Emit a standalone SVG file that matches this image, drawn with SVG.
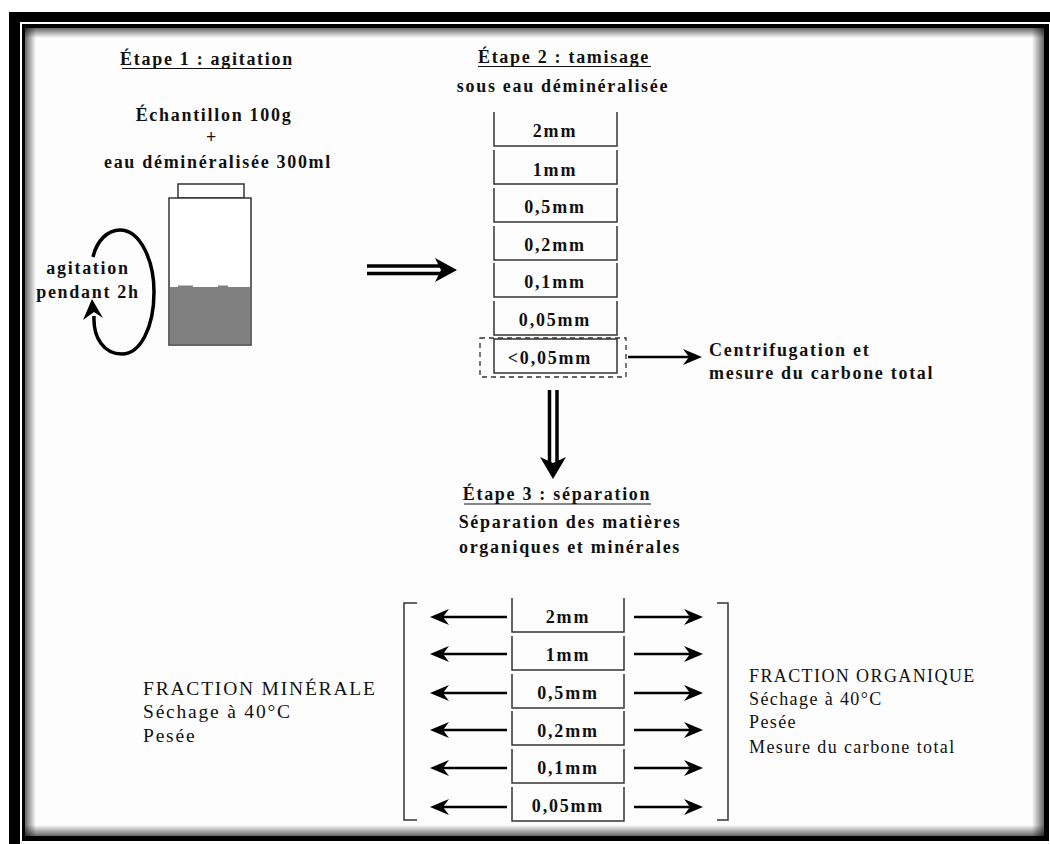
<svg xmlns="http://www.w3.org/2000/svg" xmlns:xlink="http://www.w3.org/1999/xlink" width="1050" height="844" viewBox="0 0 1050 844">
<style>
.b{font-family:"Liberation Serif","Times New Roman",serif;font-weight:bold;font-size:18px;letter-spacing:1.7px;fill:#111}
.m{text-anchor:middle}
.s{font-family:"Liberation Serif","Times New Roman",serif;font-weight:bold;font-size:18px;letter-spacing:1.8px;fill:#111;text-anchor:middle}
.r{font-family:"Liberation Serif","Times New Roman",serif;font-size:18px;letter-spacing:1.4px;fill:#111}
.rl{font-family:"Liberation Serif","Times New Roman",serif;font-size:19.5px;letter-spacing:1.8px;fill:#111}
.sv{fill:none;stroke:#333;stroke-width:1.5}
.ul{stroke:#111;stroke-width:1.2}
.ar{stroke:#000;stroke-width:2.6;marker-end:url(#ah)}
.dl{stroke:#000;stroke-width:3.5}
</style>
<defs>
<marker id="ah" viewBox="-20 -10 20 20" markerWidth="20" markerHeight="20" refX="-10" refY="0" orient="auto" markerUnits="userSpaceOnUse">
<path d="M0,0 L-19,-8 L-13,0 L-19,8 Z" fill="#000"/>
</marker>
<linearGradient id="gl" x1="0" y1="0" x2="1" y2="0"><stop offset="0" stop-color="#000" stop-opacity="0.6"/><stop offset="1" stop-color="#000" stop-opacity="0"/></linearGradient>
<linearGradient id="gr" x1="1" y1="0" x2="0" y2="0"><stop offset="0" stop-color="#000" stop-opacity="0.6"/><stop offset="1" stop-color="#000" stop-opacity="0"/></linearGradient>
<linearGradient id="gt" x1="0" y1="0" x2="0" y2="1"><stop offset="0" stop-color="#000" stop-opacity="0.6"/><stop offset="1" stop-color="#000" stop-opacity="0"/></linearGradient>
<linearGradient id="gb" x1="0" y1="1" x2="0" y2="0"><stop offset="0" stop-color="#000" stop-opacity="0.6"/><stop offset="1" stop-color="#000" stop-opacity="0"/></linearGradient>
</defs>
<rect width="1050" height="844" fill="#fff"/>
<g id="frame">
<rect x="9" y="12" width="11" height="832" fill="#000"/>
<rect x="9" y="12" width="1041" height="10" fill="#000"/>
<rect x="22" y="24" width="1027" height="817" fill="#000"/>
<rect x="25" y="28" width="1019" height="808" fill="#fdfdfd"/>
<rect x="25" y="28" width="11" height="808" fill="url(#gl)"/>
<rect x="1032" y="28" width="12" height="808" fill="url(#gr)"/>
<rect x="25" y="28" width="1019" height="10" fill="url(#gt)"/>
<rect x="25" y="825" width="1019" height="11" fill="url(#gb)"/>
</g>
<g id="etape1">
<text class="b m" x="207" y="65">Étape 1 : agitation</text>
<line class="ul" x1="122" y1="68.5" x2="291" y2="68.5"/>
<text class="b m" x="214" y="121">Échantillon 100g</text>
<text class="b m" x="212" y="143">+</text>
<text class="b m" x="218" y="168">eau déminéralisée 300ml</text>
</g>
<g id="jar">
<rect x="178" y="184" width="66" height="14" fill="#fff" stroke="#333" stroke-width="1.5"/>
<rect x="169" y="198" width="82" height="147" fill="#fff" stroke="#333" stroke-width="1.5"/>
<path d="M170,287 H178 V285.6 H193 V287 H218 V285.6 H228 V287 H250 V344 H170 Z" fill="#808080"/>
</g>
<g id="agitation">
<path d="M93,257 C97,240 108,230 120,230 C140,230 154,260 154,292 C154,328 140,354 122,354 C104,354 93,338 94,316" fill="none" stroke="#000" stroke-width="3.5"/>
<path d="M92,299 L103,318 L94,312 L83,320 Z" fill="#000"/>
<text class="b m" x="88" y="274">agitation</text>
<text class="b m" x="88" y="298">pendant 2h</text>
</g>
<g id="etape2">
<text class="b m" x="564" y="63">Étape 2 : tamisage</text>
<line class="ul" x1="478" y1="66.5" x2="651" y2="66.5"/>
<text class="b m" x="563" y="92">sous eau déminéralisée</text>
</g>
<g id="tamis">
<path class="sv" d="M494,112 V146 H617 V112"/>
<path class="sv" d="M494,150 V184 H617 V150"/>
<path class="sv" d="M494,188 V222 H617 V188"/>
<path class="sv" d="M494,226 V260 H617 V226"/>
<path class="sv" d="M494,263 V297 H617 V263"/>
<path class="sv" d="M494,301 V335 H617 V301"/>
<rect class="sv" x="494" y="339" width="123" height="34"/>
<rect x="480" y="338" width="146" height="39" fill="none" stroke="#333" stroke-width="1.3" stroke-dasharray="5 4"/>
<text class="s" x="555" y="137">2mm</text>
<text class="s" x="555" y="176">1mm</text>
<text class="s" x="555" y="213">0,5mm</text>
<text class="s" x="555" y="251">0,2mm</text>
<text class="s" x="555" y="288">0,1mm</text>
<text class="s" x="555" y="326">0,05mm</text>
<text class="s" x="550" y="364">&lt;0,05mm</text>
</g>
<g id="centrifugation">
<text class="b" x="709" y="356">Centrifugation et</text>
<text class="b" x="709" y="379">mesure du carbone total</text>
</g>
<g id="etape3">
<text class="b m" x="557" y="500">Étape 3 : séparation</text>
<line class="ul" x1="464" y1="504" x2="651" y2="504"/>
<text class="b m" x="570" y="528">Séparation des matières</text>
<text class="b m" x="570" y="553">organiques et minérales</text>
</g>
<g id="separation">
<path class="sv" d="M512,598 V632 H624 V598"/>
<path class="sv" d="M512,636 V670 H624 V636"/>
<path class="sv" d="M512,674 V708 H624 V674"/>
<path class="sv" d="M512,711 V745 H624 V711"/>
<path class="sv" d="M512,749 V783 H624 V749"/>
<path class="sv" d="M512,787 V821 H624 V787"/>
<text class="s" x="568" y="623">2mm</text>
<text class="s" x="568" y="661">1mm</text>
<text class="s" x="568" y="699">0,5mm</text>
<text class="s" x="568" y="737">0,2mm</text>
<text class="s" x="568" y="774">0,1mm</text>
<text class="s" x="568" y="812">0,05mm</text>
<path class="sv" d="M417,603 H404 V820 H417"/>
<path class="sv" d="M717,603 H728 V820 H717"/>
</g>
<g id="fraction-minerale">
<text class="rl" x="143" y="695" letter-spacing="2.2">FRACTION MINÉRALE</text>
<text class="rl" x="143" y="718">Séchage à 40°C</text>
<text class="rl" x="143" y="742">Pesée</text>
</g>
<g id="fraction-organique">
<text class="r" x="749" y="682">FRACTION ORGANIQUE</text>
<text class="r" x="749" y="705">Séchage à 40°C</text>
<text class="r" x="749" y="728">Pesée</text>
<text class="r" x="749" y="753">Mesure du carbone total</text>
</g>
<g id="connectors">
<line class="dl" x1="367" y1="266" x2="442" y2="266"/>
<line class="dl" x1="367" y1="273.5" x2="442" y2="273.5"/>
<path d="M457,270 L435,258 L441,270 L435,282 Z" fill="#000"/>
<line class="dl" x1="549.5" y1="390" x2="549.5" y2="463"/>
<line class="dl" x1="557" y1="390" x2="557" y2="463"/>
<path d="M553,479 L540,457 L553,463 L566,457 Z" fill="#000"/>
<line class="ar" x1="628" y1="357" x2="692" y2="357"/>
<line class="ar" x1="634" y1="617" x2="693" y2="617"/>
<line class="ar" x1="634" y1="654" x2="693" y2="654"/>
<line class="ar" x1="634" y1="693" x2="693" y2="693"/>
<line class="ar" x1="634" y1="730" x2="693" y2="730"/>
<line class="ar" x1="634" y1="768" x2="693" y2="768"/>
<line class="ar" x1="634" y1="807" x2="693" y2="807"/>
<line class="ar" x1="507" y1="617" x2="440" y2="617"/>
<line class="ar" x1="507" y1="654" x2="440" y2="654"/>
<line class="ar" x1="507" y1="693" x2="440" y2="693"/>
<line class="ar" x1="507" y1="730" x2="440" y2="730"/>
<line class="ar" x1="507" y1="768" x2="440" y2="768"/>
<line class="ar" x1="507" y1="807" x2="440" y2="807"/>
</g>
</svg>
